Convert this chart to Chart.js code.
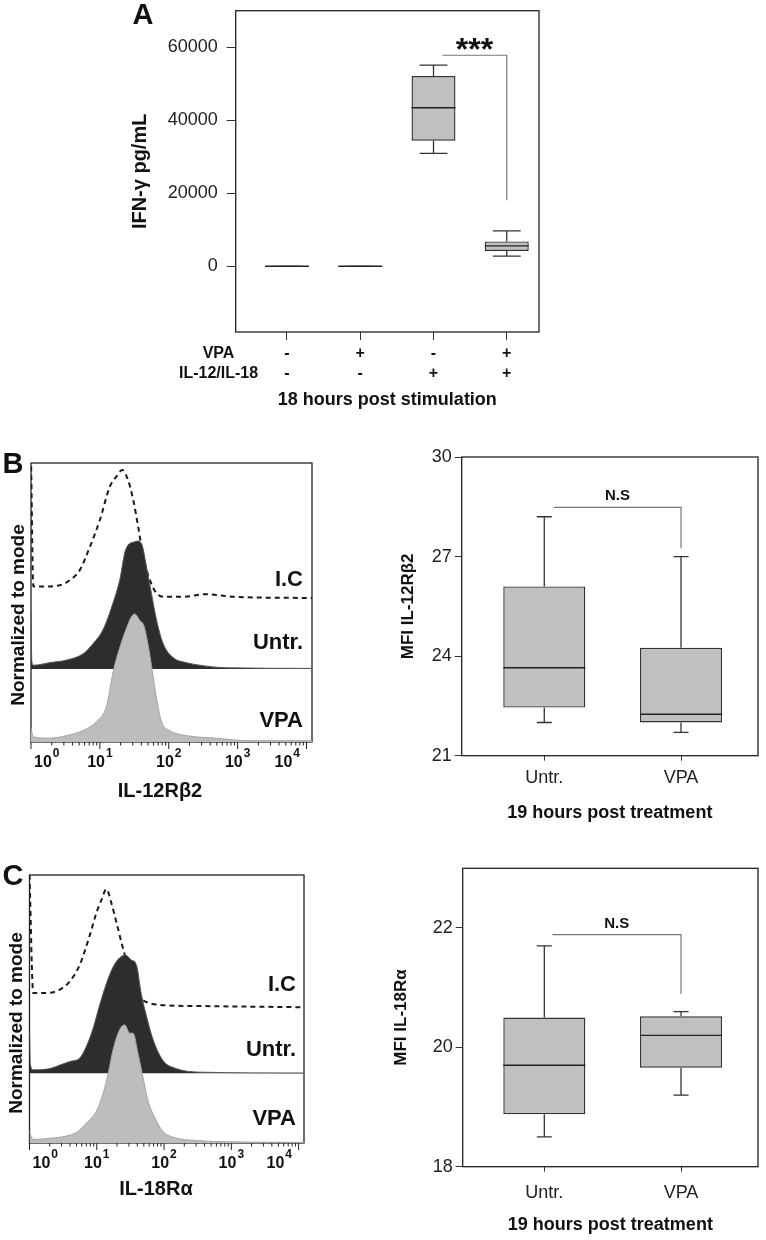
<!DOCTYPE html>
<html>
<head>
<meta charset="utf-8">
<script src="https://cdn.jsdelivr.net/npm/chart.js@4.4.1/dist/chart.umd.min.js"></script>
<style>
  body { margin: 0; background: #fff; width: 766px; height: 1240px; position: relative; overflow: hidden; }
  canvas { position: absolute; }
</style>
</head>
<body>
<canvas id="chart-a" width="766" height="415" style="left:0;top:0"></canvas>
<canvas id="hist-b" width="330" height="370" style="left:0;top:440px"></canvas>
<canvas id="box-b" width="386" height="400" style="left:380px;top:430px"></canvas>
<canvas id="hist-c" width="330" height="380" style="left:0;top:850px"></canvas>
<canvas id="box-c" width="386" height="400" style="left:380px;top:840px"></canvas>
<script>
// ---- Panel A : IFN-gamma box plot
const groupsA = [1, 2, 3, 4];
const vpaSigns = ["-", "+", "-", "+"];
const ilSigns = ["-", "-", "+", "+"];
const minA = [0, 0, 30900, 2800];
const q1A = [0, 0, 34400, 4200];
const medA = [0, 0, 43400, 5600];
const q3A = [0, 0, 52100, 6800];
const maxA = [0, 0, 55100, 9700];
const yTicksA = [0, 20000, 40000, 60000];
const bracketAx = [3.12, 4, 4];
const bracketAy = [57800, 57800, 18100];

// ---- Panel B / C : MFI box plots
const boxLabels = ["Untr.", "VPA"];
const minB = [22.0, 21.7];
const q1B = [22.45, 22.0];
const medB = [23.65, 22.25];
const q3B = [26.1, 24.25];
const maxB = [28.2, 27.0];
const yTicksB = [21, 24, 27, 30];
const bracketBx = [1.07, 2, 2];
const bracketBy = [28.48, 28.48, 27.25];

const minC = [18.5, 19.2];
const q1C = [18.88, 19.66];
const medC = [19.7, 20.2];
const q3C = [20.5, 20.52];
const maxC = [21.7, 20.6];
const yTicksC = [18, 20, 22];
const bracketCx = [1.06, 2, 2];
const bracketCy = [21.89, 21.89, 20.9];

// ---- histograms (x = log10 of fluorescence, y = % of mode)
const histMajor = [0, 1, 2, 3, 4];
const histLayers = ["VPA", "Untr.", "I.C"];

const histBVpaX = [0, 0.015, 0.034, 0.275, 0.517, 0.758, 0.952, 1.097, 1.193, 1.29, 1.387, 1.459, 1.507, 1.58, 1.638, 1.70, 1.763, 1.82, 1.894, 2.014, 2.256, 2.69, 3.17, 4.08];
const histBVpaY = [11, 7, 4, 3, 5, 9, 16, 28, 55, 74, 89, 98, 100, 95, 91, 76, 55, 35, 16, 9, 5, 3, 1, 1];
const histBUntX = [0, 0.012, 0.034, 0.275, 0.517, 0.758, 0.903, 1.048, 1.193, 1.29, 1.362, 1.41, 1.483, 1.555, 1.618, 1.676, 1.749, 1.82, 1.918, 2.063, 2.256, 2.45, 2.836, 4.08];
const histBUntY = [45, 6, 3, 5, 7, 12, 20, 31, 52, 70, 91, 97, 99, 100, 96, 80, 59, 39, 20, 9, 5, 3, 1, 0.5];
const histBIcX = [0, 0.034, 0.178, 0.42, 0.565, 0.71, 0.855, 1.0, 1.145, 1.242, 1.324, 1.41, 1.483, 1.555, 1.628, 1.773, 1.918, 2.208, 2.547, 2.93, 4.08];
const histBIcY = [110, 9, 9, 10, 14, 22, 40, 61, 87, 95, 100, 92, 77, 56, 33, 8, 1, 1, 3, 1, 0];

const histCVpaX = [0, 0.015, 0.056, 0.31, 0.551, 0.70, 0.847, 0.995, 1.094, 1.17, 1.242, 1.34, 1.415, 1.49, 1.54, 1.612, 1.686, 1.76, 1.858, 1.98, 2.13, 2.525, 3.02, 4.08];
const histCVpaY = [10, 7, 3, 4, 6, 9, 17, 27, 42, 59, 79, 96, 100, 93, 93, 76, 56, 36, 22, 10, 5, 2, 1, 0.5];
const histCUntX = [0, 0.012, 0.056, 0.304, 0.452, 0.6, 0.748, 0.847, 0.945, 1.044, 1.143, 1.242, 1.341, 1.43, 1.514, 1.588, 1.662, 1.736, 1.834, 1.982, 2.181, 2.526, 4.08];
const histCUntY = [35, 8, 3, 4, 7, 10, 13, 23, 38, 58, 76, 90, 98, 100, 96, 92, 67, 49, 29, 11, 4, 1, 0.3];
const histCIcX = [0, 0.056, 0.255, 0.452, 0.6, 0.748, 0.896, 0.995, 1.07, 1.143, 1.218, 1.292, 1.366, 1.44, 1.538, 1.686, 1.933, 2.526, 4.08];
const histCIcY = [112, 12, 12, 15, 22, 36, 61, 80, 91, 100, 88, 72, 55, 39, 14, 6, 2, 1, 0];

const FONT = '"Liberation Sans", Arial, Helvetica, sans-serif';
Chart.defaults.font.family = FONT;
Chart.defaults.color = "#1a1a1a";

// centre the ink of a text on (x, y)
function inkText(ctx, text, x, y, align) {
  ctx.textAlign = align || "center";
  ctx.textBaseline = "alphabetic";
  const m = ctx.measureText(text);
  ctx.fillText(text, x, y + (m.actualBoundingBoxAscent - m.actualBoundingBoxDescent) / 2);
}

// fixed axis size so the plot areas land where they should
function fixBox(size, key) {
  return s => {
    s[key] = size;
    s.paddingTop = 0; s.paddingBottom = 0; s.paddingLeft = 0; s.paddingRight = 0;
  };
}

const framePlugin = {
  id: "frame",
  beforeDatasetsDraw(chart) {
    const { ctx, chartArea: a } = chart;
    ctx.save();
    ctx.strokeStyle = "#222";
    ctx.lineWidth = 1.3;
    ctx.strokeRect(a.left, a.top, a.right - a.left, a.bottom - a.top);
    ctx.restore();
  }
};

function boxSets(q1, med, q3, lo, hi, cap) {
  const boxes = q1.map((v, i) => ({ x: i + 1, y: [v, q3[i]] }));
  const medPts = [];
  const whisk = [];
  med.forEach((m, i) => {
    const x = i + 1;
    medPts.push({ x: x - 0.3, y: m }, { x: x + 0.3, y: m }, { x: x, y: null });
    whisk.push({ x, y: q3[i] }, { x, y: hi[i] }, { x, y: null });
    whisk.push({ x: x - cap, y: hi[i] }, { x: x + cap, y: hi[i] }, { x, y: null });
    whisk.push({ x, y: q1[i] }, { x, y: lo[i] }, { x, y: null });
    whisk.push({ x: x - cap, y: lo[i] }, { x: x + cap, y: lo[i] }, { x, y: null });
  });
  return [
    { type: "bar", data: boxes, backgroundColor: "#c0c0c0", borderColor: "#333", borderWidth: 1.4,
      borderSkipped: false, barPercentage: 0.6, categoryPercentage: 1, order: 2 },
    { type: "line", data: whisk, borderColor: "#333", borderWidth: 1.3, pointRadius: 0, spanGaps: false, order: 3 },
    { type: "line", data: medPts, borderColor: "#222", borderWidth: 1.4, pointRadius: 0, spanGaps: false, order: 1 }
  ];
}

function bracketSet(xs, ys) {
  return { type: "line", data: xs.map((x, i) => ({ x, y: ys[i] })), borderColor: "#777",
    borderWidth: 1.2, pointRadius: 0, order: 4 };
}

const baseOpts = { responsive: false, animation: false, devicePixelRatio: 1, events: [] };
const noLegend = { legend: { display: false }, tooltip: { enabled: false } };

// ---------------- Panel A
const decorA = {
  id: "decorA",
  afterDraw(chart) {
    const { ctx, scales: { x, y } } = chart;
    ctx.save();
    ctx.fillStyle = "#111";
    ctx.font = "bold 29px " + FONT;
    inkText(ctx, "A", 143, 14);
    ctx.font = "bold 16px " + FONT;
    ctx.textAlign = "center";
    ctx.textBaseline = "middle";
    ctx.fillText("VPA", 218.5, 354);
    ctx.fillText("IL-12/IL-18", 218.5, 374);
    const sx = x.getPixelForValue((bracketAx[0] + bracketAx[1]) / 2);
    const sy = y.getPixelForValue(bracketAy[0]);
    ctx.font = "bold 32px " + FONT;
    inkText(ctx, "***", sx, sy - 11);
    ctx.restore();
  }
};

new Chart(document.getElementById("chart-a"), {
  type: "bar",
  data: { datasets: [...boxSets(q1A, medA, q3A, minA, maxA, 0.19), bracketSet(bracketAx, bracketAy)] },
  options: {
    ...baseOpts,
    layout: { padding: { left: 120, top: 10.7, right: 227, bottom: 0 } },
    plugins: noLegend,
    scales: {
      x: {
        type: "linear", min: 0.3, max: 4.44, offset: false, bounds: "data",
        afterBuildTicks: s => { s.ticks = groupsA.map(v => ({ value: v })); },
        afterFit: fixBox(83, "height"),
        grid: { drawOnChartArea: false, tickLength: 8, color: "#333", offset: false },
        border: { display: false },
        ticks: {
          padding: 4, autoSkip: false, maxRotation: 0, color: "#111",
          font: { size: 16, weight: "bold", lineHeight: 1.25 },
          callback: v => [vpaSigns[groupsA.indexOf(v)], ilSigns[groupsA.indexOf(v)]]
        },
        title: { display: true, text: "18 hours post stimulation", color: "#111",
          font: { size: 18, weight: "bold", lineHeight: 1.2 }, padding: { top: 0, bottom: 4.2 } }
      },
      y: {
        type: "linear", min: -18000, max: 70000, bounds: "data",
        afterBuildTicks: s => { s.ticks = yTicksA.map(v => ({ value: v })); },
        afterFit: fixBox(115.7, "width"),
        grid: { drawOnChartArea: false, tickLength: 9, color: "#333" },
        border: { display: false },
        ticks: { padding: 9, color: "#222", font: { size: 18 }, callback: v => String(v) },
        title: { display: true, text: "IFN-γ pg/mL", color: "#111",
          font: { size: 20, weight: "bold", lineHeight: 1.2 }, padding: { top: 8, bottom: 0 } }
      }
    }
  },
  plugins: [framePlugin, decorA]
});

// ---------------- box plots B and C
function boxChart(id, o) {
  const datasets = [...boxSets(o.q1, o.med, o.q3, o.lo, o.hi, 0.055), bracketSet(o.bx, o.by)];
  const decor = {
    id: "decorBox",
    afterDraw(chart) {
      const { ctx, scales: { x, y } } = chart;
      ctx.save();
      ctx.fillStyle = "#111";
      ctx.font = "bold 15px " + FONT;
      inkText(ctx, "N.S", x.getPixelForValue((o.bx[0] + o.bx[1]) / 2), y.getPixelForValue(o.by[0]) - 12);
      ctx.restore();
    }
  };
  return new Chart(document.getElementById(id), {
    type: "bar",
    data: { datasets },
    options: {
      ...baseOpts,
      layout: { padding: o.pad },
      plugins: noLegend,
      scales: {
        x: {
          type: "linear", min: o.xmin, max: 2.563, offset: false, bounds: "data",
          afterBuildTicks: s => { s.ticks = boxLabels.map((_, i) => ({ value: i + 1 })); },
          afterFit: fixBox(70, "height"),
          grid: { drawOnChartArea: false, tickLength: 5, color: "#333", offset: false },
          border: { display: false },
          ticks: { padding: o.xpad, autoSkip: false, maxRotation: 0, color: "#222",
            font: { size: 18, lineHeight: 1.2 }, callback: v => boxLabels[Math.round(v) - 1] },
          title: { display: true, text: "19 hours post treatment", color: "#111",
            font: { size: 18, weight: "bold", lineHeight: 1.2 }, padding: { top: 0, bottom: o.xtpad } }
        },
        y: {
          type: "linear", min: o.ymin, max: o.ymax, bounds: "data",
          afterBuildTicks: s => { s.ticks = o.yticks.map(v => ({ value: v })); },
          afterFit: fixBox(o.yw, "width"),
          grid: { drawOnChartArea: false, tickLength: 7, color: "#333" },
          border: { display: false },
          ticks: { padding: 3, color: "#222", font: { size: 18 }, callback: v => String(v) },
          title: { display: true, text: o.ytitle, color: "#111",
            font: { size: 17, weight: "bold", lineHeight: 1.2 }, padding: { top: o.ytpad, bottom: 0 } }
        }
      }
    },
    plugins: [framePlugin, decor]
  });
}

boxChart("box-b", {
  q1: q1B, med: medB, q3: q3B, lo: minB, hi: maxB, bx: bracketBx, by: bracketBy,
  yticks: yTicksB, ymin: 21, ymax: 30, xmin: 0.396, yw: 81.7,
  pad: { left: 0, top: 27, right: 8, bottom: 4.3 }, xpad: 6.5, xtpad: 1.9, ytpad: 17.8,
  ytitle: "MFI IL-12Rβ2"
});

boxChart("box-c", {
  q1: q1C, med: medC, q3: q3C, lo: minC, hi: maxC, bx: bracketCx, by: bracketCy,
  yticks: yTicksC, ymin: 18, ymax: 23, xmin: 0.403, yw: 82.7,
  pad: { left: 0, top: 28.3, right: 8, bottom: 3.3 }, xpad: 10.5, xtpad: 0.9, ytpad: 10.8,
  ytitle: "MFI IL-18Rα"
});

// ---------------- histograms
function histChart(id, o) {
  const layer = (xs, ys, off) => xs.map((x, i) => ({ x, y: ys[i] + off }));
  const decor = {
    id: "decorHist",
    afterDraw(chart) {
      const { ctx, chartArea: a, scales: { x } } = chart;
      ctx.save();
      ctx.strokeStyle = "#222";
      ctx.lineWidth = 1;
      ctx.beginPath();
      for (let d = 0; d < 4; d++) {
        for (let k = 2; k < 10; k++) {
          const px = x.getPixelForValue(d + Math.log10(k));
          ctx.moveTo(px, a.bottom); ctx.lineTo(px, a.bottom + 3.5);
        }
      }
      histMajor.forEach(v => {
        const px = x.getPixelForValue(v);
        ctx.moveTo(px, a.bottom); ctx.lineTo(px, a.bottom + 7);
      });
      ctx.stroke();

      // decade labels 10^n
      ctx.fillStyle = "#111";
      ctx.textBaseline = "middle";
      ctx.textAlign = "left";
      const ly = a.bottom + 21;
      histMajor.forEach(v => {
        ctx.font = "bold 16px " + FONT;
        const w10 = ctx.measureText("10").width;
        ctx.font = "bold 12px " + FONT;
        const we = ctx.measureText(String(v)).width;
        const w = w10 + we + 1;
        let left = x.getPixelForValue(v) - w / 2;
        left = Math.max(left, a.left + 3);
        left = Math.min(left, a.right - 12 - w);
        ctx.font = "bold 16px " + FONT;
        ctx.fillText("10", left, ly);
        ctx.font = "bold 12px " + FONT;
        ctx.fillText(String(v), left + w10 + 1, ly - 9);
      });

      // layer names
      ctx.font = "bold 22px " + FONT;
      histLayers.forEach((t, i) => inkText(ctx, t, o.labelX, o.labelY[i], "right"));

      // axis titles and panel letter
      ctx.font = "bold 20px " + FONT;
      inkText(ctx, o.xtitle, o.xtitleAt[0], o.xtitleAt[1]);
      ctx.save();
      ctx.translate(o.ytitleAt[0], o.ytitleAt[1]);
      ctx.rotate(-Math.PI / 2);
      ctx.font = "bold 19px " + FONT;
      inkText(ctx, "Normalized to mode", 0, 0);
      ctx.restore();
      ctx.font = "bold 29px " + FONT;
      inkText(ctx, o.letter, 13, o.letterY);
      ctx.restore();
    }
  };
  return new Chart(document.getElementById(id), {
    type: "line",
    data: {
      datasets: [
        { label: "VPA", data: layer(o.vpaX, o.vpaY, o.offsets[0]), fill: { value: o.offsets[0] },
          backgroundColor: "#bdbdbd", borderColor: "#a5a5a5", borderWidth: 1, pointRadius: 0,
          cubicInterpolationMode: "monotone" },
        { label: "Untr.", data: layer(o.untX, o.untY, o.offsets[1]), fill: { value: o.offsets[1] },
          backgroundColor: "#2d2d2d", borderColor: "#555", borderWidth: 1, pointRadius: 0,
          cubicInterpolationMode: "monotone" },
        { label: "I.C", data: layer(o.icX, o.icY, o.offsets[2]), fill: false,
          borderColor: "#1a1a1a", borderWidth: 2, borderDash: [5, 4], pointRadius: 0,
          cubicInterpolationMode: "monotone" }
      ]
    },
    options: {
      ...baseOpts,
      layout: { padding: o.pad },
      plugins: noLegend,
      scales: {
        x: { type: "linear", display: false, min: 0, max: 4.08 },
        y: { type: "linear", display: false, min: 0, max: o.ymax }
      }
    },
    plugins: [framePlugin, decor]
  });
}

histChart("hist-b", {
  vpaX: histBVpaX, vpaY: histBVpaY, untX: histBUntX, untY: histBUntY, icX: histBIcX, icY: histBIcY,
  offsets: [0, 57, 112.5], ymax: 218,
  pad: { left: 31, top: 23, right: 18, bottom: 68 },
  labelX: 303, labelY: [279, 201, 138],
  xtitle: "IL-12Rβ2", xtitleAt: [160, 351], ytitleAt: [17, 175],
  letter: "B", letterY: 23
});

histChart("hist-c", {
  vpaX: histCVpaX, vpaY: histCVpaY, untX: histCUntX, untY: histCUntY, icX: histCIcX, icY: histCIcY,
  offsets: [0, 59, 115], ymax: 227,
  pad: { left: 29.5, top: 25, right: 26, bottom: 87 },
  labelX: 296, labelY: [267, 198, 133],
  xtitle: "IL-18Rα", xtitleAt: [156, 338], ytitleAt: [15, 173],
  letter: "C", letterY: 25
});
</script>
</body>
</html>
